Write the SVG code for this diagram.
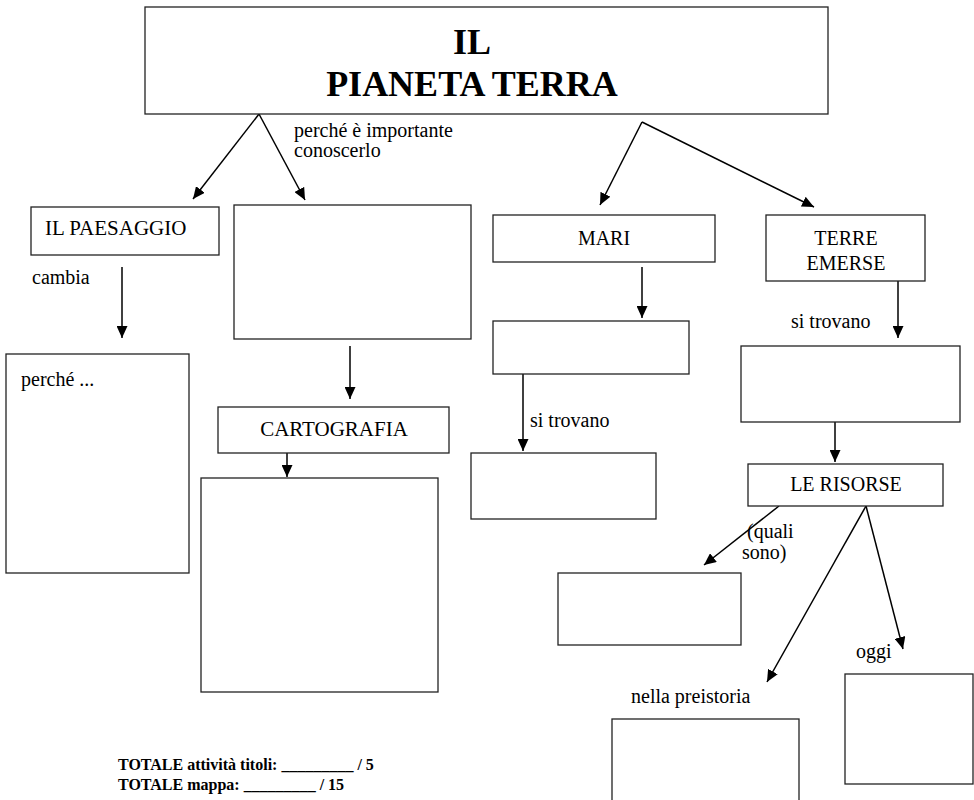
<svg xmlns="http://www.w3.org/2000/svg" width="974" height="800" viewBox="0 0 974 800">
<style>
.box{fill:#fff;stroke:#222;stroke-width:1.3}
.lbl{font-family:'Liberation Serif','Tinos','Times New Roman','DejaVu Serif',serif;font-size:20px;fill:#000}
.big{font-size:21px}
.mid{text-anchor:middle}
.title{font-family:'Liberation Serif','Tinos','Times New Roman','DejaVu Serif',serif;font-size:36px;font-weight:bold;fill:#000;text-anchor:middle}
.foot{font-family:'Liberation Serif','Tinos','Times New Roman','DejaVu Serif',serif;font-size:16px;font-weight:bold;fill:#000}
.arr{stroke:#000;stroke-width:1.5;fill:none;marker-end:url(#ah)}
</style>
<defs>
<marker id="ah" markerUnits="userSpaceOnUse" markerWidth="13" markerHeight="11" refX="12" refY="5.5" orient="auto">
<path d="M0,0 L12,5.5 L0,11 z" fill="#000"/>
</marker>
</defs>
<rect width="974" height="800" fill="#fff"/>
<g id="connectors">
<line class="arr" x1="259" y1="114" x2="193" y2="199"/>
<line class="arr" x1="259" y1="114" x2="305" y2="200"/>
<line class="arr" x1="642" y1="122" x2="600" y2="205"/>
<line class="arr" x1="642" y1="122" x2="814" y2="207"/>
<line class="arr" x1="122" y1="267" x2="122" y2="338"/>
<line class="arr" x1="350" y1="346" x2="350" y2="399"/>
<line class="arr" x1="287" y1="453" x2="287" y2="477"/>
<line class="arr" x1="642" y1="267" x2="642" y2="318"/>
<line class="arr" x1="523" y1="374" x2="523" y2="451"/>
<line class="arr" x1="898" y1="281" x2="898" y2="338"/>
<line class="arr" x1="835" y1="422" x2="835" y2="462"/>
<line class="arr" x1="779" y1="506" x2="704" y2="565"/>
<line class="arr" x1="866" y1="506" x2="767" y2="682"/>
<line class="arr" x1="866" y1="506" x2="903" y2="649"/>
</g>
<g id="title"><rect class="box" x="145" y="7" width="683" height="107"/>
<text class="title" x="472" y="54">IL</text>
<text class="title" x="472" y="96">PIANETA TERRA</text></g>
<g id="lbl-importante"><text class="lbl" x="294" y="137">perché è importante</text><text class="lbl" x="294" y="157">conoscerlo</text></g>
<g id="paesaggio"><rect class="box" x="31" y="207" width="188" height="48"/><text class="lbl big" x="45" y="235">IL PAESAGGIO</text></g>
<g id="box-importante"><rect class="box" x="234" y="205" width="237" height="134"/></g>
<g id="mari"><rect class="box" x="493" y="215" width="222" height="47"/><text class="lbl mid" x="604" y="245">MARI</text></g>
<g id="terre"><rect class="box" x="766" y="215" width="159" height="66"/><text class="lbl mid" x="846" y="245">TERRE</text><text class="lbl mid" x="846" y="270">EMERSE</text></g>
<g id="lbl-cambia"><text class="lbl" x="32" y="284">cambia</text></g>
<g id="perche"><rect class="box" x="6" y="354" width="183" height="219"/><text class="lbl" x="21" y="386">perché ...</text></g>
<g id="cartografia"><rect class="box" x="218" y="407" width="231" height="46"/><text class="lbl big mid" x="334" y="436">CARTOGRAFIA</text></g>
<g id="box-carto"><rect class="box" x="201" y="478" width="237" height="214"/></g>
<g id="box-mari1"><rect class="box" x="493" y="321" width="196" height="53"/></g>
<g id="lbl-sitrovano1"><text class="lbl" x="530" y="427">si trovano</text></g>
<g id="box-mari2"><rect class="box" x="471" y="453" width="185" height="66"/></g>
<g id="lbl-sitrovano2"><text class="lbl" x="791" y="328">si trovano</text></g>
<g id="box-terre"><rect class="box" x="741" y="346" width="219" height="76"/></g>
<g id="risorse"><rect class="box" x="748" y="464" width="195" height="42"/><text class="lbl mid" x="846" y="491">LE RISORSE</text></g>
<g id="lbl-quali"><text class="lbl" x="747" y="538">(quali</text><text class="lbl" x="742" y="559">sono)</text></g>
<g id="box-quali"><rect class="box" x="558" y="573" width="183" height="72"/></g>
<g id="lbl-oggi"><text class="lbl" x="856" y="658">oggi</text></g>
<g id="lbl-preistoria"><text class="lbl" x="631" y="703">nella preistoria</text></g>
<g id="box-preistoria"><rect class="box" x="612" y="719" width="187" height="100"/></g>
<g id="box-oggi"><rect class="box" x="845" y="674" width="128" height="110"/></g>
<g id="footer"><text class="foot" x="118" y="770">TOTALE attività titoli: _________ / 5</text>
<text class="foot" x="118" y="790">TOTALE mappa: _________ / 15</text></g>
</svg>
